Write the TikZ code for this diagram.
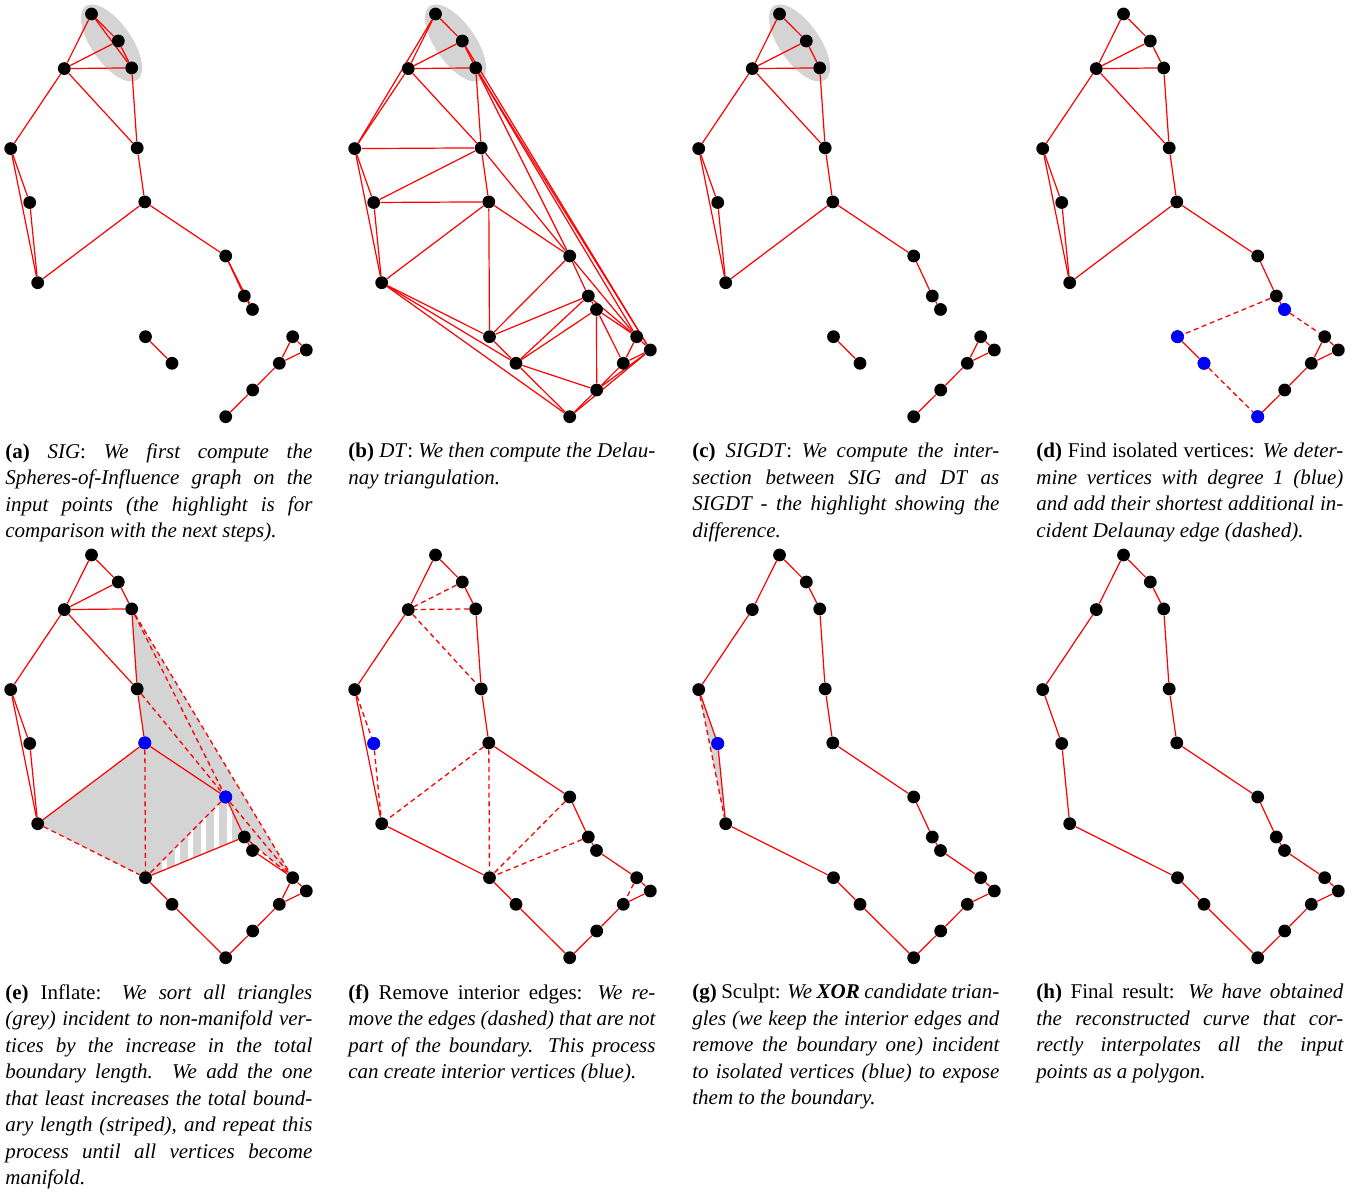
\documentclass[tikz,border=0pt]{standalone}
\usepackage{fontspec}
\setmainfont{Liberation Serif}
\hbadness=10000 \tolerance=10000 \hyphenpenalty=10000
\pgfdeclarelayer{fills}
\pgfdeclarelayer{edges}
\pgfsetlayers{fills,edges,main}
\tikzset{
  dot/.style={circle, fill=black, inner sep=0pt, minimum size=6.4pt},
  bdot/.style={circle, fill=blue, inner sep=0pt, minimum size=6.4pt},
  sg/.style={red, line width=0.6pt},
  dg/.style={red, line width=0.65pt, dash pattern=on 2.5pt off 1.8pt},
  capt/.style={anchor=north west, inner sep=0pt, text width=153.5pt, align=justify,
    font=\fontsize{10.5pt}{13.25pt}\selectfont},
  hl/.style={fill=black!17}
}
\newcommand\placepts[3]{%
  \foreach \pn/\px/\py in {1/91.5/14,2/118.3/41,3/131.7/67.9,4/64.3/68.6,5/10.7/148.6,6/137.2/147.9,7/29.7/202.5,8/144.8/201.9,9/37.7/282.7,10/225.7/256,11/244.3/296,12/252.5/309.5,13/145.5/336.7,14/172/363.3,15/292.7/336.7,16/306.3/350,17/279.3/363.3,18/252.7/390,19/225.7/416.7}{%
    \node[dot] (#1\pn) at ({\px+#2},{\py+#3}) {};
  }%
}
\newcommand\edgeset[3]{%
  \begin{pgfonlayer}{edges}
  \foreach \eu/\ev in {#3}{\draw[#2] (#1\eu) -- (#1\ev);}
  \end{pgfonlayer}
}
\newcommand\highlight[1]{%
  \begin{pgfonlayer}{fills}
  \fill[hl, rotate around={-55:(#1,43)}] (#1,43) ellipse [x radius=22.5pt, y radius=10pt];
  \end{pgfonlayer}
}
\begin{document}
\begin{tikzpicture}[x=0.5pt, y=-0.5pt]
\useasboundingbox (0,0) rectangle (1362,1192);
% points
\placepts{a}{0}{0}
\placepts{b}{344}{0}
\placepts{c}{688}{0}
\placepts{d}{1032}{0}
\placepts{e}{0}{541}
\placepts{f}{344}{541}
\placepts{g}{688}{541}
\placepts{h}{1032}{541}
% highlights
\highlight{111.5}
\highlight{455.5}
\highlight{799.5}
% (a) SIG
\edgeset{a}{sg}{1/2,1/3,1/4,2/3,2/4,3/4,3/6,4/5,4/6,5/7,5/9,7/9,6/8,8/9,8/10,10/11,10/12,11/12,13/14,15/16,15/17,16/17,17/18,18/19}
% (b) DT
\edgeset{b}{sg}{1/2,1/4,1/5,2/3,2/4,3/4,4/5,4/6,3/6,2/16,3/16,3/15,3/10,5/6,5/7,5/9,7/9,6/7,7/8,6/8,6/10,8/9,8/10,8/13,9/13,9/14,9/19,10/13,10/11,10/15,11/13,11/14,11/12,11/15,12/14,12/15,12/17,12/18,13/14,14/18,14/19,15/16,15/17,16/17,16/18,16/19,17/18,18/19}
% (c) SIGDT
\edgeset{c}{sg}{1/2,1/4,2/3,2/4,3/4,3/6,4/5,4/6,5/7,5/9,7/9,6/8,8/9,8/10,10/11,11/12,13/14,15/16,15/17,16/17,17/18,18/19}
% (d)
\edgeset{d}{sg}{1/2,1/4,2/3,2/4,3/4,3/6,4/5,4/6,5/7,5/9,7/9,6/8,8/9,8/10,10/11,11/12,13/14,15/16,15/17,16/17,17/18,18/19}
\edgeset{d}{dg}{11/13,12/15,14/19}
\node[bdot] (d12b) at (d12) {};
\node[bdot] (d13b) at (d13) {};
\node[bdot] (d14b) at (d14) {};
\node[bdot] (d19b) at (d19) {};
% (e) inflate
\begin{pgfonlayer}{fills}
\fill[hl] (e9.center) -- (e8.center) -- (e6.center) -- (e3.center) -- (e15.center) -- (e11.center) -- (e13.center) -- cycle;
\begin{scope}
\clip (e13.center) -- (e10.center) -- (e11.center) -- cycle;
\foreach \k in {0,...,7}{\fill[white] ({161.5+13*\k},780) rectangle ({167.2+13*\k},890);}
\end{scope}
\end{pgfonlayer}
\edgeset{e}{sg}{1/2,1/4,2/3,2/4,3/4,3/6,4/5,4/6,5/7,5/9,7/9,6/8,8/9,8/10,10/11,11/12,11/13,12/15,13/14,14/19,15/16,15/17,16/17,17/18,18/19}
\edgeset{e}{dg}{3/10,3/15,6/10,10/15,11/15,8/13,9/13,10/13}
\node[bdot] (e8b) at (e8) {};
\node[bdot] (e10b) at (e10) {};
% (f) remove interior edges
\edgeset{f}{sg}{1/2,1/4,2/3,3/6,4/5,5/9,6/8,8/10,9/13,10/11,11/12,12/15,13/14,14/19,18/19,17/18,16/17,15/16}
\edgeset{f}{dg}{2/4,3/4,4/6,5/7,7/9,8/9,8/13,10/13,11/13,15/17}
\node[bdot] (f7b) at (f7) {};
% (g) sculpt
\begin{pgfonlayer}{fills}
\fill[hl] (g5.center) -- (g7.center) -- (g9.center) -- cycle;
\end{pgfonlayer}
\edgeset{g}{sg}{1/2,1/4,2/3,3/6,4/5,6/8,8/10,10/11,11/12,12/15,15/16,16/17,17/18,18/19,19/14,14/13,13/9,9/7,7/5}
\edgeset{g}{dg}{5/9}
\node[bdot] (g7b) at (g7) {};
% (h) final
\edgeset{h}{sg}{1/2,2/3,3/6,6/8,8/10,10/11,11/12,12/15,15/16,16/17,17/18,18/19,19/14,14/13,13/9,9/7,7/5,5/4,4/1}
% captions
\node[capt] (capa) at (5,443) {\textbf{(a)} \textit{SIG}: \textit{We first compute the\linebreak Spheres-of-Influence graph on the\linebreak input points (the highlight is for\linebreak comparison with the next steps).}};
\node[capt] (capb) at (348,443) {\textbf{(b)} \textit{DT}: \textit{We then compute the Delau-\linebreak nay triangulation.}};
\node[capt] (capc) at (692,443) {\textbf{(c)} \textit{SIGDT}: \textit{We compute the inter-\linebreak section between SIG and DT as\linebreak SIGDT - the highlight showing the\linebreak difference.}};
\node[capt] (capd) at (1036,443) {\textbf{(d)} Find isolated vertices: \textit{We deter-\linebreak mine vertices with degree 1 (blue)\linebreak and add their shortest additional in-\linebreak cident Delaunay edge (dashed).}};
\node[capt] (cape) at (5,984) {\textbf{(e)} Inflate: \textit{We sort all triangles\linebreak (grey) incident to non-manifold ver-\linebreak tices by the increase in the total\linebreak boundary length. We add the one\linebreak that least increases the total bound-\linebreak ary length (striped), and repeat this\linebreak process until all vertices become\linebreak manifold.}};
\node[capt] (capf) at (348,984) {\textbf{(f)} Remove interior edges: \textit{We re-\linebreak move the edges (dashed) that are not\linebreak part of the boundary. This process\linebreak can create interior vertices (blue).}};
\node[capt] (capg) at (692,984) {\textbf{(g)} Sculpt: \textit{We \textbf{XOR} candidate trian-\linebreak gles (we keep the interior edges and\linebreak remove the boundary one) incident\linebreak to isolated vertices (blue) to expose\linebreak them to the boundary.}};
\node[capt] (caph) at (1036,984) {\textbf{(h)} Final result: \textit{We have obtained\linebreak the reconstructed curve that cor-\linebreak rectly interpolates all the input\linebreak points as a polygon.}};
\end{tikzpicture}
\end{document}
